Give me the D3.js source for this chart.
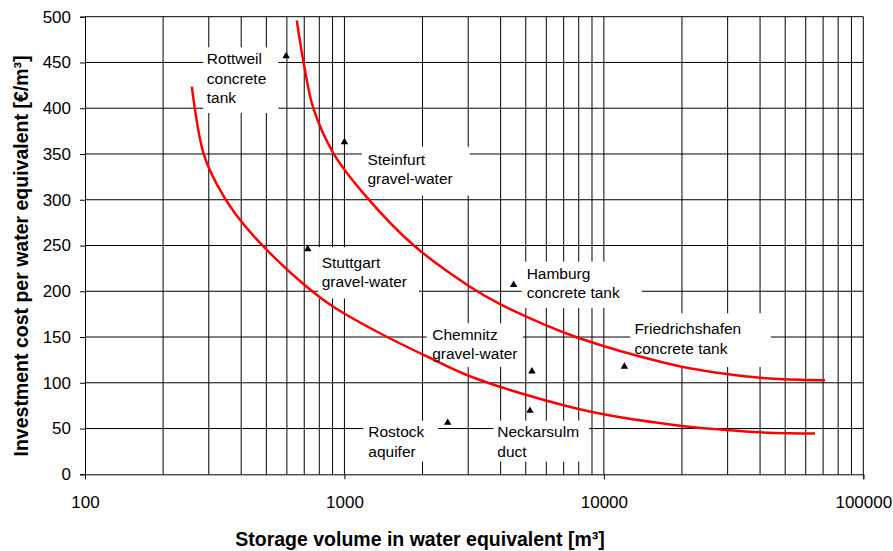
<!DOCTYPE html>
<html>
<head>
<meta charset="utf-8">
<script src="https://cdn.jsdelivr.net/npm/d3@7"></script>
<style>
  html, body { margin: 0; padding: 0; background: #fff; }
  svg { display: block; font-family: "Liberation Sans", Arial, sans-serif; }
</style>
</head>
<body>
<svg id="chart" width="893" height="551"></svg>
<script>
// ---------------- DATA ----------------
const upperCurveVolume = [655, 699, 759, 906, 1200, 1843, 3048, 3978, 5844, 7860, 9663, 13785, 19950, 29760, 39970, 57020, 71170];
const upperCurveCost   = [496, 447, 400, 351, 305, 250.5, 205, 186, 164.2, 149.7, 141.3, 128.7, 117.6, 109.6, 105.5, 103.3, 102.8];
const lowerCurveVolume = [258, 286, 322, 378.5, 502, 715, 906, 1371, 2137, 2960, 5041, 9107, 19950, 29760, 39970, 52180, 65130];
const lowerCurveCost   = [423.5, 351, 317, 285.2, 245.1, 205, 183.1, 154.1, 127.1, 108.5, 86.6, 67.7, 52.8, 48.4, 45.9, 44.9, 44.6];

const siteLabels = [
  ["Rottweil", "concrete", "tank"],
  ["Steinfurt", "gravel-water"],
  ["Stuttgart", "gravel-water"],
  ["Hamburg", "concrete tank"],
  ["Chemnitz", "gravel-water"],
  ["Neckarsulm", "duct"],
  ["Rostock", "aquifer"],
  ["Friedrichshafen", "concrete tank"]
];
const siteVolume = [596, 1000, 722, 4490, 5280, 5190, 2500, 12000];
const siteCost   = [457, 363, 246, 207, 112.5, 69.5, 56.4, 117.6];

const yTicks = [0, 50, 100, 150, 200, 250, 300, 350, 400, 450, 500];
const xTickLabels = [100, 1000, 10000, 100000];

const xTitle = "Storage volume in water equivalent [m³]";
const yTitle = "Investment cost per water equivalent [€/m³]";

// ---------------- LAYOUT ----------------
const plotLeft = 85, plotRight = 863.3, plotTop = 16.7, plotBottom = 474.3;
// label text offset from marker (px), and white box padding [left, right, top, bottom]
const labelLayout = [
  { dx: -79.3, dy: 8.3,   pad: [3.5, 12, 17, 10] },
  { dx: 23,    dy: 22.7,  pad: [5.5, 17, 18, 11.5] },
  { dx: 14,    dy: 19,    pad: [3.5, 12, 21, 11] },
  { dx: 13,    dy: -5.7,  pad: [5, 22, 17.5, 9.5] },
  { dx: -99.7, dy: -31.3, pad: [5.5, 5.5, 16.7, 7.5] },
  { dx: -32.7, dy: 26.6,  pad: [4, 10, 16.7, 5] },
  { dx: -79.4, dy: 14.6,  pad: [5, 14, 16.7, 5] },
  { dx: 10,    dy: -32.4, pad: [4.3, 29.7, 21, 13.4] }
];
const lineHeight = 19.3;

const svg = d3.select("#chart");
const x = d3.scaleLog().domain([100, 100000]).range([plotLeft, plotRight]);
const y = d3.scaleLinear().domain([0, 500]).range([plotBottom, plotTop]);

// gridlines
const gridVals = [];
for (let d = 100; d < 100000; d *= 10) {
  for (let k = 1; k <= 9; k++) gridVals.push(k * d);
}
gridVals.push(100000);
const grid = svg.append("g");
grid.selectAll("line.v").data(gridVals.filter(v => v > 100)).join("line")
  .attr("x1", d => x(d)).attr("x2", d => x(d))
  .attr("y1", plotTop).attr("y2", plotBottom)
  .attr("stroke", "#000").attr("stroke-width", 1);
grid.selectAll("line.h").data(yTicks.filter(v => v > 0)).join("line")
  .attr("x1", plotLeft).attr("x2", plotRight)
  .attr("y1", d => y(d)).attr("y2", d => y(d))
  .attr("stroke", "#000").attr("stroke-width", 1);

// axes
const yAxis = d3.axisLeft(y).tickValues(yTicks).tickSize(5).tickPadding(9);
const gy = svg.append("g").attr("transform", `translate(${plotLeft},0)`).call(yAxis);
gy.select(".domain").attr("stroke", "#000");
gy.selectAll("text").attr("font-size", "17px").attr("fill", "#000")
  .attr("font-family", "'Liberation Sans', Arial, sans-serif");

const xAxis = d3.axisBottom(x).tickValues(xTickLabels).tickFormat(d3.format("d")).tickSize(5).tickPadding(17);
const gx = svg.append("g").attr("transform", `translate(0,${plotBottom})`).call(xAxis);
gx.select(".domain").attr("stroke", "#000");
gx.selectAll("text").attr("font-size", "17px").attr("fill", "#000")
  .attr("font-family", "'Liberation Sans', Arial, sans-serif");

// label boxes + text
const labelG = svg.append("g");
const textG = svg.append("g");
siteLabels.forEach((lines, i) => {
  const L = labelLayout[i];
  const px = x(siteVolume[i]) + L.dx;
  const py = y(siteCost[i]) + L.dy;
  const t = textG.append("text")
    .attr("x", px).attr("y", py)
    .attr("font-size", "15.5px").attr("fill", "#000");
  lines.forEach((ln, j) => {
    t.append("tspan").attr("x", px).attr("y", py + j * lineHeight).text(ln);
  });
  const w = d3.max(t.selectAll("tspan").nodes(), n => n.getComputedTextLength());
  const [pl, pr, pt, pb] = L.pad;
  labelG.append("rect")
    .attr("x", px - pl).attr("y", py - pt)
    .attr("width", w + pl + pr)
    .attr("height", (lines.length - 1) * lineHeight + pt + pb)
    .attr("fill", "#fff");
});

// curves
const line = d3.line().x(d => x(d[0])).y(d => y(d[1])).curve(d3.curveCatmullRom.alpha(0.5));
const curveG = svg.append("g");
curveG.append("path")
  .datum(upperCurveVolume.map((v, i) => [v, upperCurveCost[i]]))
  .attr("d", line).attr("fill", "none").attr("stroke", "#ff0000").attr("stroke-width", 2.5);
curveG.append("path")
  .datum(lowerCurveVolume.map((v, i) => [v, lowerCurveCost[i]]))
  .attr("d", line).attr("fill", "none").attr("stroke", "#ff0000").attr("stroke-width", 2.5);

// markers
svg.append("g").selectAll("path").data(siteVolume.map((v, i) => [v, siteCost[i]])).join("path")
  .attr("d", d3.symbol(d3.symbolTriangle, 24))
  .attr("transform", d => `translate(${x(d[0])},${y(d[1])})`)
  .attr("fill", "#000");

// bring text on top
textG.raise();

// titles
svg.append("text")
  .attr("x", 420).attr("y", 546)
  .attr("text-anchor", "middle")
  .attr("font-size", "19.5px").attr("font-weight", "bold")
  .text(xTitle);
svg.append("text")
  .attr("transform", "translate(28,256) rotate(-90)")
  .attr("text-anchor", "middle")
  .attr("font-size", "19.5px").attr("font-weight", "bold")
  .text(yTitle);
</script>
</body>
</html>
